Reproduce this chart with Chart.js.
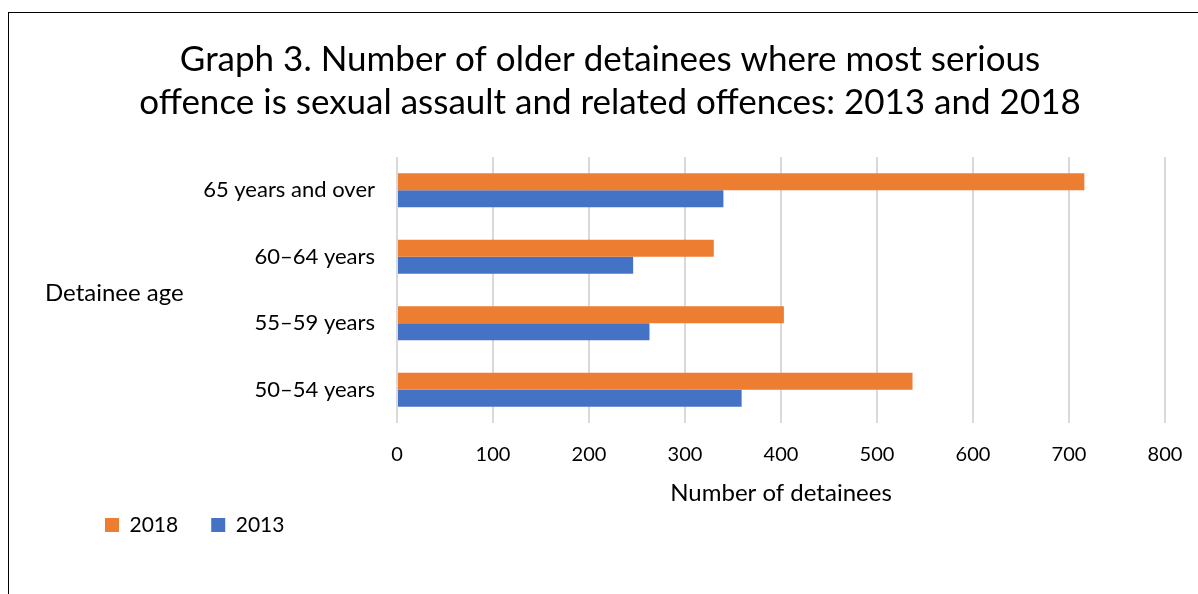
<!DOCTYPE html>
<html>
<head>
<meta charset="utf-8">
<script src="https://cdn.jsdelivr.net/npm/chart.js@4.4.1/dist/chart.umd.min.js"></script>
<style>
  html, body { margin: 0; padding: 0; background: #fff; }
  #frame {
    position: absolute; left: 8px; top: 12px;
    width: 1300px; height: 700px;
    border: 1px solid #000;
  }
  #wrap { position: absolute; left: 0; top: 0; width: 1198px; height: 594px; }
</style>
</head>
<body>
<div id="frame"></div>
<div id="wrap"><canvas id="chart" width="1198" height="594"></canvas></div>
<script>
// ================= DATA =================
const categories = ["65 years and over", "60–64 years", "55–59 years", "50–54 years"];
const values2018 = [716, 330, 403, 537];
const values2013 = [340, 246, 263, 359];
const xTicks = [0, 100, 200, 300, 400, 500, 600, 700, 800];

const titleLines = [
    "Graph 3. Number of older detainees where most serious",
    "offence is sexual assault and related offences: 2013 and 2018"
];
const yAxisTitle = "Detainee age";
const xAxisTitle = "Number of detainees";

// ================= STYLE =================
const FONT = "Lato, 'Open Sans', sans-serif";
const ORANGE = "#ED7D31";
const BLUE = "#4472C4";

// title + horizontal "Detainee age" label
const textPlugin = {
    id: "textPlugin",
    afterDraw(chart) {
        const ctx = chart.ctx;
        ctx.save();
        ctx.fillStyle = "#000";
        ctx.textBaseline = "middle";
        ctx.textAlign = "center";
        ctx.font = "35px " + FONT;
        ctx.fillText(titleLines[0], 610, 60);
        ctx.fillText(titleLines[1], 610, 103);

        ctx.textAlign = "left";
        ctx.font = "24px " + FONT;
        const area = chart.chartArea;
        ctx.fillText(yAxisTitle, 45, (area.top + area.bottom) / 2 + 3);
        ctx.restore();
    }
};

const chart = new Chart(document.getElementById("chart"), {
    type: "bar",
    data: {
        labels: categories,
        datasets: [
            {
                label: "2018",
                data: values2018,
                backgroundColor: ORANGE,
                categoryPercentage: 0.51,
                barPercentage: 1
            },
            {
                label: "2013",
                data: values2013,
                backgroundColor: BLUE,
                categoryPercentage: 0.51,
                barPercentage: 1
            }
        ]
    },
    options: {
        indexAxis: "y",
        responsive: false,
        animation: false,
        layout: {
            padding: { top: 157, left: 72, right: 33, bottom: 48.5 }
        },
        scales: {
            x: {
                min: 0,
                max: 800,
                afterBuildTicks(scale) {
                    scale.ticks = xTicks.map(v => ({ value: v }));
                },
                afterFit(scale) {
                    scale.height = 58.5;
                    // the right padding already leaves room for the "800" label
                    scale.paddingRight = 0;
                },
                grid: { color: "#d9d9d9", lineWidth: 2, drawTicks: false },
                border: { display: false },
                ticks: {
                    padding: 20,
                    color: "#000",
                    font: { family: FONT, size: 20 }
                },
                title: {
                    display: true,
                    text: xAxisTitle,
                    color: "#000",
                    font: { family: FONT, size: 24 },
                    padding: { top: 0, bottom: -26 }
                }
            },
            y: {
                afterFit(scale) { scale.width = 397 - 72; },
                grid: { display: false, drawTicks: false },
                border: { display: false },
                ticks: {
                    padding: 22,
                    color: "#000",
                    font: { family: FONT, size: 22 }
                }
            }
        },
        plugins: {
            legend: {
                position: "bottom",
                align: "start",
                labels: {
                    boxWidth: 14,
                    boxHeight: 14,
                    padding: 33,
                    color: "#000",
                    font: { family: FONT, size: 21 }
                }
            },
            title: { display: false },
            tooltip: { enabled: false }
        }
    },
    plugins: [textPlugin]
});
</script>
</body>
</html>
